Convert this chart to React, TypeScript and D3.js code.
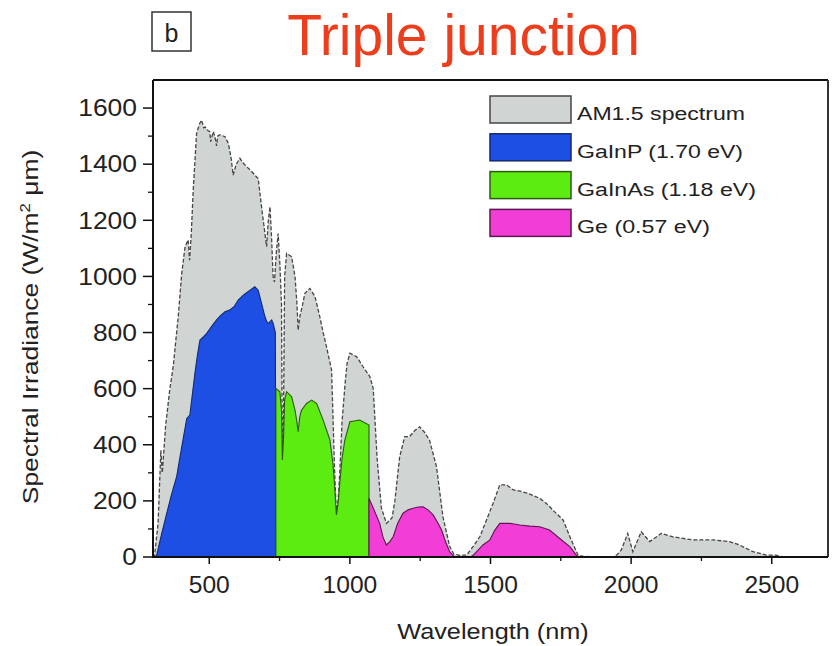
import React from "react";
import * as d3 from "d3";

type P = [number, number];

// AM1.5 spectrum (nm, W/m2 um)
const am15: P[] = [
  [300, 0], [305, 0], [318, 120], [328, 380], [333, 300], [345, 470], [360, 600], [372, 680],
  [390, 860], [402, 1010], [414, 1106], [425, 1130], [430, 1058], [436, 1150], [443, 1308],
  [455, 1510], [466, 1545], [473, 1557], [480, 1530], [485, 1533], [495, 1520], [502, 1516],
  [505, 1480], [510, 1500], [514, 1516], [520, 1500], [526, 1465], [530, 1500], [537, 1505],
  [556, 1498], [568, 1474], [578, 1420], [585, 1361], [596, 1400], [609, 1421], [620, 1405],
  [633, 1391], [650, 1375], [662, 1361], [674, 1349], [686, 1248], [698, 1153], [704, 1106],
  [710, 1200], [716, 1248], [722, 1130], [727, 999], [732, 980], [738, 1080], [745, 1153],
  [751, 1046], [757, 900], [760, 346], [764, 500], [768, 1000], [775, 1082], [793, 1070],
  [805, 999], [812, 900], [816, 809], [822, 857], [832, 900], [840, 940], [858, 957],
  [876, 928], [893, 857], [905, 800], [917, 749], [935, 666], [940, 500], [946, 300],
  [952, 156], [958, 200], [964, 300], [972, 480], [982, 607], [990, 690], [1000, 726],
  [1024, 714], [1047, 678], [1071, 643], [1083, 600], [1097, 350], [1112, 175], [1130, 120],
  [1150, 140], [1160, 200], [1177, 357], [1195, 429], [1212, 429], [1230, 450], [1248, 464],
  [1265, 445], [1283, 417], [1308, 322], [1331, 143], [1355, 37], [1370, 10], [1391, 6],
  [1415, 7], [1440, 40], [1462, 72], [1485, 130], [1509, 191], [1533, 257], [1557, 257],
  [1581, 239], [1605, 235], [1633, 227], [1675, 209], [1700, 190], [1722, 167], [1758, 132],
  [1787, 61], [1811, 7], [1830, 2], [1935, 0], [1950, 8], [1965, 25], [1988, 84], [2006, 19],
  [2036, 90], [2066, 55], [2107, 84], [2148, 72], [2219, 61], [2290, 61], [2350, 55],
  [2385, 43], [2433, 19], [2480, 7], [2515, 7], [2540, 0],
];

// GaInP top cell (1.70 eV)
const gainp: P[] = [
  [305, 0], [313, 6], [330, 80], [349, 156], [365, 220], [384, 286], [400, 380], [420, 494],
  [431, 506], [440, 580], [449, 655], [458, 720], [467, 773], [480, 785], [491, 797],
  [508, 821], [526, 845], [540, 860], [556, 874], [572, 880], [588, 892], [603, 916],
  [621, 933], [645, 951], [662, 963], [674, 951], [686, 904], [698, 856], [704, 840],
  [710, 833], [722, 845], [727, 833], [735, 800], [737, 0],
];

// GaInAs middle cell (1.18 eV)
const gainas: P[] = [
  [737, 0], [737, 601], [751, 589], [757, 520], [760, 346], [764, 420], [768, 560], [775, 589],
  [793, 571], [805, 523], [812, 480], [816, 447], [822, 500], [828, 523], [846, 547],
  [864, 559], [882, 547], [905, 488], [929, 417], [940, 330], [946, 250], [952, 150],
  [958, 190], [964, 263], [972, 350], [982, 417], [1000, 482], [1035, 488], [1068, 470],
  [1068, 0],
];

// Ge bottom cell (0.57 eV)
const ge1: P[] = [
  [1068, 0], [1068, 209], [1085, 170], [1106, 120], [1118, 70], [1130, 43], [1142, 55],
  [1154, 72], [1170, 120], [1189, 156], [1207, 168], [1225, 174], [1243, 178], [1260, 179],
  [1278, 168], [1296, 150], [1311, 125], [1326, 96], [1340, 55], [1355, 18], [1367, 6],
  [1372, 0],
];
const ge2: P[] = [
  [1430, 0], [1439, 7], [1473, 43], [1497, 60], [1515, 95], [1533, 120], [1569, 120],
  [1604, 114], [1640, 110], [1675, 108], [1710, 96], [1746, 66], [1782, 37], [1805, 7],
  [1812, 0],
];

const xTicks = [500, 1000, 1500, 2000, 2500];
const yTicks = [0, 200, 400, 600, 800, 1000, 1200, 1400, 1600];
const legendLabels = ["AM1.5 spectrum", "GaInP (1.70 eV)", "GaInAs (1.18 eV)", "Ge (0.57 eV)"];
const legendWidths = [168, 166, 179, 133];

const FILL = ["#d0d4d2", "#1e4fe4", "#5cec12", "#f23dd6"];
const EDGE = ["#454545", "#14296e", "#2c5a10", "#5e1650"];

const FONT = "'Liberation Sans', Arial, Helvetica, sans-serif";

export default function App() {
  const W = 833, H = 646;
  const x = d3.scaleLinear().domain([300, 2700]).range([153, 828]);
  const y = d3.scaleLinear().domain([0, 1700]).range([557, 80]);
  const area = d3.area<P>().x((d) => x(d[0])).y0(y(0)).y1((d) => y(d[1]));
  const line = d3.line<P>().x((d) => x(d[0])).y((d) => y(d[1]));

  const xMinor = d3.range(250, 2701, 250).filter((v) => v >= 300 && v % 500 !== 0);
  const yMinor = d3.range(100, 1700, 200);

  const [x0, x1] = x.range();
  const [y0, y1] = y.range();

  const cells: { data: P[]; i: number }[] = [
    { data: gainp, i: 1 },
    { data: gainas, i: 2 },
    { data: ge1, i: 3 },
    { data: ge2, i: 3 },
  ];

  return (
    <svg width={W} height={H} style={{ position: "absolute", left: 0, top: 0, background: "#fff" }}
      fontFamily={FONT}>
      <rect x={0} y={0} width={W} height={H} fill="#fff" />
      {/* panel label */}
      <rect x={152} y={12} width={39} height={39} fill="#fff" stroke="#333" strokeWidth={1.5} />
      <text x={171.5} y={42} textAnchor="middle" fontSize={25} fill="#222">b</text>
      {/* title */}
      <text x={463.5} y={55} textAnchor="middle" fontSize={57} fill="#ec3d1c">Triple junction</text>

      <defs>
        <clipPath id="plotclip">
          <rect x={x0} y={y1} width={x1 - x0} height={y0 - y1} />
        </clipPath>
      </defs>

      <g clipPath="url(#plotclip)">
        <path d={area(am15) || ""} fill={FILL[0]} />
        <path d={line(am15) || ""} fill="none" stroke={EDGE[0]} strokeWidth={1.3} strokeDasharray="4 2" />
        {cells.map((c, k) => (
          <path key={k} d={area(c.data) || ""} fill={FILL[c.i]} stroke={EDGE[c.i]} strokeWidth={1.1} />
        ))}
      </g>

      {/* frame */}
      <line x1={x0} x2={x1} y1={y1} y2={y1} stroke="#111" strokeWidth={2} />
      <line x1={x1} x2={x1} y1={y1} y2={y0} stroke="#333" strokeWidth={2} />
      <line x1={x0} x2={x0} y1={y1} y2={y0 + 1} stroke="#111" strokeWidth={2} />
      <line x1={x0 - 1} x2={x1} y1={y0} y2={y0} stroke="#111" strokeWidth={2} />

      {/* y ticks */}
      {yTicks.map((v) => (
        <g key={"y" + v}>
          <line x1={x0 - 10} x2={x0} y1={y(v)} y2={y(v)} stroke="#111" strokeWidth={1.5} />
          <text transform={`translate(${137},${y(v)}) scale(1.15,1)`} dy="0.36em" textAnchor="end"
            fontSize={23} fill="#222">{v}</text>
        </g>
      ))}
      {yMinor.map((v) => (
        <line key={"ym" + v} x1={x0 - 5} x2={x0} y1={y(v)} y2={y(v)} stroke="#111" strokeWidth={1.3} />
      ))}

      {/* x ticks */}
      {xTicks.map((v) => (
        <g key={"x" + v}>
          <line x1={x(v)} x2={x(v)} y1={y0} y2={y0 + 7} stroke="#111" strokeWidth={1.5} />
          <text transform={`translate(${x(v)},${593}) scale(1.07,1)`} textAnchor="middle"
            fontSize={23} fill="#222">{v}</text>
        </g>
      ))}
      {xMinor.map((v) => (
        <line key={"xm" + v} x1={x(v)} x2={x(v)} y1={y0} y2={y0 + 4} stroke="#111" strokeWidth={1.3} />
      ))}

      {/* axis titles */}
      <text transform={`translate(493,639) scale(1.15,1)`} textAnchor="middle" fontSize={22} fill="#222">
        Wavelength (nm)
      </text>
      <text transform={`translate(38,327) rotate(-90) scale(1.2,1)`} textAnchor="middle" fontSize={22} fill="#222">
        Spectral Irradiance (W/m<tspan fontSize={14} dy={-8}>2</tspan><tspan dy={8}> μm)</tspan>
      </text>

      {/* legend */}
      {legendLabels.map((lab, i) => {
        const top = 96 + i * 37.8;
        return (
          <g key={lab}>
            <rect x={490} y={top} width={81} height={27} fill={FILL[i]} stroke={EDGE[i]} strokeWidth={1.5} />
            <text x={577} y={top + 24} fontSize={18} fill="#222" textLength={legendWidths[i]}
              lengthAdjust="spacingAndGlyphs">{lab}</text>
          </g>
        );
      })}
    </svg>
  );
}
